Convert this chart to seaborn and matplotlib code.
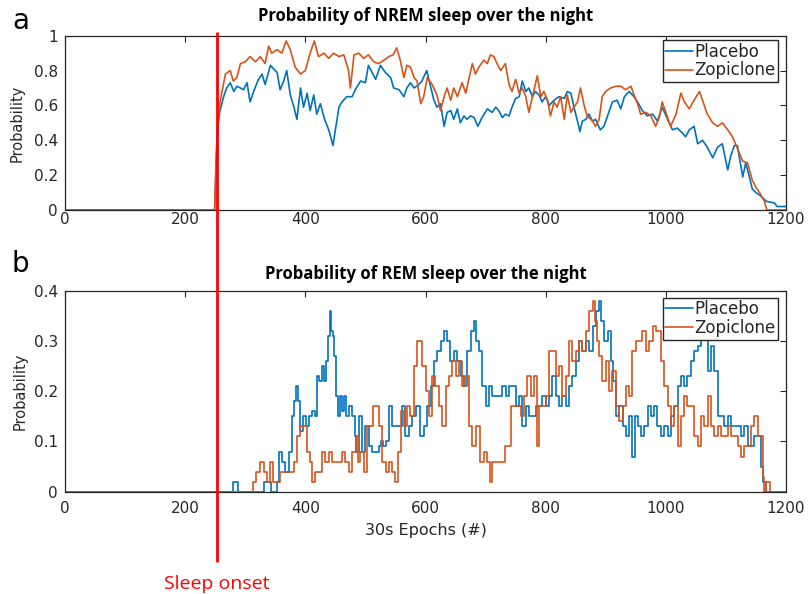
import numpy as np
import pandas as pd
import matplotlib
matplotlib.use("Agg")
import matplotlib.pyplot as plt
import matplotlib.transforms as mtransforms
from matplotlib.lines import Line2D
import seaborn as sns

# ---------------- data ----------------
nrem_pl_x = [0, 249, 252, 255, 258, 264, 269, 275, 281, 286, 292, 297, 303, 308, 314, 322, 328, 333, 342, 347,
             353, 358, 364, 369, 375, 381, 386, 392, 397, 403, 408, 414, 419, 425, 432, 439, 446, 450, 456, 461,
             469, 478, 483, 492, 500, 505, 511, 517, 525, 533, 542, 547, 556, 564, 569, 575, 581, 589, 594, 602,
             607, 614, 619, 625, 631, 636, 642, 647, 653, 658, 664, 669, 675, 681, 687, 694, 703, 711, 717, 722,
             728, 733, 739, 744, 750, 756, 761, 767, 772, 778, 783, 789, 794, 800, 806, 814, 822, 831, 836, 842,
             847, 853, 857, 861, 867, 872, 878, 883, 891, 897, 903, 911, 919, 925, 931, 939, 947, 953, 961, 969,
             978, 986, 994, 1003, 1011, 1019, 1028, 1033, 1039, 1047, 1053, 1061, 1069, 1078, 1086, 1094, 1103,
             1108, 1114, 1119, 1128, 1133, 1139, 1144, 1150, 1158, 1167, 1181, 1185, 1200]
nrem_pl_y = [0, 0, 0.30, 0.50, 0.57, 0.65, 0.70, 0.73, 0.68, 0.71, 0.70, 0.69, 0.73, 0.62, 0.68, 0.75, 0.78, 0.72, 0.83, 0.81,
             0.79, 0.69, 0.74, 0.80, 0.66, 0.59, 0.52, 0.70, 0.59, 0.67, 0.57, 0.66, 0.55, 0.61, 0.52, 0.46, 0.37, 0.46, 0.59, 0.62,
             0.65, 0.65, 0.69, 0.74, 0.73, 0.83, 0.79, 0.75, 0.83, 0.79, 0.76, 0.70, 0.69, 0.65, 0.70, 0.73, 0.70, 0.72, 0.74, 0.80,
             0.73, 0.63, 0.59, 0.61, 0.48, 0.56, 0.57, 0.52, 0.58, 0.50, 0.54, 0.52, 0.54, 0.53, 0.48, 0.53, 0.58, 0.56, 0.59, 0.57,
             0.53, 0.55, 0.54, 0.59, 0.64, 0.65, 0.74, 0.68, 0.70, 0.65, 0.68, 0.66, 0.62, 0.65, 0.60, 0.63, 0.65, 0.64, 0.68, 0.67,
             0.59, 0.51, 0.45, 0.51, 0.52, 0.55, 0.51, 0.52, 0.46, 0.48, 0.54, 0.62, 0.63, 0.58, 0.65, 0.68, 0.65, 0.62, 0.57, 0.54,
             0.55, 0.51, 0.59, 0.52, 0.46, 0.47, 0.44, 0.42, 0.46, 0.48, 0.38, 0.40, 0.36, 0.30, 0.36, 0.38, 0.23,
             0.31, 0.37, 0.37, 0.19, 0.27, 0.19, 0.12, 0.10, 0.08, 0.05, 0.04, 0.02, 0.02]

nrem_zo_x = [0, 249, 252, 255, 258, 267, 275, 280, 286, 292, 300, 308, 317, 325, 333, 339, 344, 353, 361, 368,
             375, 383, 392, 400, 408, 415, 422, 431, 439, 447, 456, 464, 472, 475, 481, 489, 497, 505, 514, 522,
             531, 539, 546, 552, 558, 564, 569, 575, 581, 586, 592, 597, 603, 611, 619, 625, 631, 636, 642, 647,
             653, 661, 667, 672, 678, 683, 689, 697, 703, 708, 714, 719, 725, 733, 739, 744, 750, 756, 761, 767,
             772, 778, 786, 792, 797, 803, 808, 814, 819, 825, 831, 836, 842, 847, 853, 858, 864, 869, 878, 883,
             889, 894, 900, 908, 917, 925, 933, 942, 947, 953, 958, 967, 975, 983, 989, 994, 1000, 1008, 1017,
             1025, 1031, 1039, 1047, 1056, 1061, 1069, 1078, 1086, 1094, 1103, 1111, 1117, 1122, 1128, 1136,
             1144, 1150, 1156, 1164, 1168, 1200]
nrem_zo_y = [0, 0, 0.35, 0.50, 0.62, 0.78, 0.80, 0.74, 0.76, 0.84, 0.85, 0.88, 0.85, 0.88, 0.84, 0.94, 0.90, 0.92, 0.90, 0.97,
             0.92, 0.82, 0.78, 0.80, 0.90, 0.97, 0.88, 0.90, 0.87, 0.90, 0.88, 0.89, 0.80, 0.70, 0.89, 0.90, 0.87, 0.89, 0.85, 0.84,
             0.86, 0.88, 0.89, 0.93, 0.86, 0.76, 0.83, 0.82, 0.76, 0.74, 0.61, 0.65, 0.76, 0.72, 0.66, 0.57, 0.65, 0.70, 0.63, 0.70,
             0.65, 0.73, 0.67, 0.75, 0.84, 0.78, 0.82, 0.86, 0.84, 0.89, 0.88, 0.84, 0.80, 0.84, 0.72, 0.68, 0.75, 0.67, 0.70, 0.65,
             0.56, 0.65, 0.77, 0.65, 0.68, 0.63, 0.54, 0.62, 0.59, 0.65, 0.52, 0.66, 0.56, 0.59, 0.62, 0.70, 0.60, 0.54, 0.51, 0.48,
             0.52, 0.65, 0.68, 0.70, 0.71, 0.71, 0.69, 0.71, 0.66, 0.61, 0.55, 0.56, 0.54, 0.48, 0.53, 0.62, 0.56, 0.48, 0.55,
             0.67, 0.62, 0.58, 0.63, 0.68, 0.63, 0.55, 0.50, 0.48, 0.50, 0.46, 0.42, 0.37, 0.33, 0.28, 0.27,
             0.17, 0.13, 0.10, 0.05, 0.0, 0.0]

rem_pl_x = [0, 279, 280, 287, 288, 330, 331, 343, 344, 352, 353, 359, 364, 369, 375, 379, 383, 386, 389, 392,
            394, 398, 403, 408, 414, 417, 421, 425, 429, 433, 436, 439, 442, 444, 447, 450, 453, 456, 458, 463,
            467, 469, 475, 481, 483, 486, 492, 497, 503, 508, 514, 519, 525, 528, 531, 536, 542, 547, 553, 558,
            564, 569, 575, 581, 589, 594, 600, 606, 611, 617, 622, 628, 633, 639, 644, 650, 656, 661, 667, 672,
            678, 682, 686, 692, 697, 703, 708, 714, 719, 725, 731, 736, 742, 747, 753, 758, 764, 769, 775, 781,
            786, 792, 797, 803, 808, 814, 819, 825, 831, 836, 842, 847, 853, 858, 864, 869, 875, 881, 886, 891,
            894, 900, 906, 911, 914, 919, 925, 931, 936, 942, 947, 950, 956, 961, 967, 972, 978, 983, 989, 994,
            1000, 1006, 1011, 1017, 1022, 1028, 1033, 1039, 1044, 1050, 1056, 1061, 1067, 1072, 1078, 1083, 1089,
            1094, 1100, 1106, 1111, 1117, 1122, 1128, 1133, 1139, 1144, 1150, 1156, 1160, 1164, 1168, 1200]
rem_pl_y = [0, 0, 0.02, 0.02, 0, 0, 0.02, 0.02, 0, 0, 0.02, 0.08, 0.06, 0.04, 0.08, 0.15, 0.18, 0.21, 0.18, 0.12,
            0.12, 0.15, 0.13, 0.15, 0.16, 0.15, 0.23, 0.22, 0.25, 0.22, 0.26, 0.31, 0.36, 0.32, 0.31, 0.27, 0.19, 0.15, 0.19, 0.16,
            0.19, 0.15, 0.17, 0.15, 0.11, 0.08, 0.15, 0.08, 0.13, 0.09, 0.08, 0.08, 0.09, 0.10, 0.09, 0.10, 0.17, 0.13, 0.13, 0.13,
            0.17, 0.11, 0.13, 0.15, 0.17, 0.11, 0.13, 0.17, 0.21, 0.26, 0.28, 0.30, 0.32, 0.30, 0.26, 0.28, 0.26, 0.23, 0.21, 0.28,
            0.32, 0.34, 0.30, 0.28, 0.21, 0.17, 0.21, 0.19, 0.19, 0.19, 0.21, 0.19, 0.21, 0.21, 0.17, 0.19, 0.13, 0.17, 0.15, 0.15,
            0.17, 0.17, 0.19, 0.17, 0.19, 0.23, 0.19, 0.17, 0.19, 0.17, 0.21, 0.23, 0.26, 0.30, 0.28, 0.30, 0.28, 0.33, 0.36, 0.38,
            0.34, 0.30, 0.32, 0.26, 0.22, 0.15, 0.17, 0.13, 0.11, 0.15, 0.07, 0.15, 0.13, 0.11, 0.13, 0.17, 0.15, 0.17, 0.13, 0.11,
            0.13, 0.11, 0.15, 0.17, 0.21, 0.23, 0.21, 0.23, 0.26, 0.28, 0.29, 0.32, 0.31, 0.24, 0.29, 0.24, 0.15,
            0.15, 0.13, 0.15, 0.13, 0.13, 0.13, 0.11, 0.13, 0.09, 0.09, 0.11, 0.11, 0.05, 0.02, 0, 0]

rem_zo_x = [0, 311, 314, 322, 328, 333, 339, 344, 350, 356, 361, 369, 378, 383, 389, 392, 400, 406, 408, 414,
            419, 425, 431, 436, 442, 447, 458, 464, 469, 475, 481, 486, 489, 494, 500, 506, 511, 514, 519, 525,
            531, 536, 542, 547, 552, 556, 561, 567, 572, 578, 583, 589, 592, 597, 603, 608, 614, 619, 625, 631,
            636, 642, 647, 653, 658, 664, 669, 675, 681, 686, 694, 700, 706, 709, 714, 719, 725, 731, 733, 739,
            744, 750, 756, 761, 767, 772, 778, 783, 787, 792, 797, 803, 808, 814, 819, 825, 831, 836, 842, 847,
            853, 858, 864, 869, 875, 881, 883, 887, 892, 897, 903, 908, 914, 919, 925, 931, 936, 942, 947, 953,
            958, 964, 969, 975, 981, 986, 991, 994, 1000, 1006, 1011, 1017, 1022, 1028, 1033, 1039, 1044, 1050,
            1056, 1061, 1067, 1072, 1078, 1083, 1089, 1094, 1100, 1106, 1111, 1117, 1122, 1128, 1133, 1139, 1144,
            1150, 1156, 1160, 1163, 1165, 1168, 1172, 1174, 1200]
rem_zo_y = [0, 0, 0.02, 0.04, 0.06, 0.04, 0.02, 0.06, 0.02, 0.02, 0.04, 0.04, 0.04, 0.06, 0.11, 0.13, 0.13, 0.08, 0.06, 0.02,
            0.04, 0.04, 0.08, 0.06, 0.08, 0.06, 0.06, 0.08, 0.06, 0.04, 0.08, 0.11, 0.06, 0.08, 0.04, 0.13, 0.13, 0.17, 0.17, 0.13,
            0.06, 0.04, 0.06, 0.04, 0.02, 0.08, 0.16, 0.13, 0.17, 0.15, 0.25, 0.30, 0.30, 0.25, 0.20, 0.15, 0.23, 0.21, 0.17, 0.13,
            0.21, 0.23, 0.26, 0.23, 0.26, 0.21, 0.23, 0.13, 0.09, 0.13, 0.06, 0.08, 0.06, 0.02, 0.06, 0.06, 0.06, 0.06, 0.09, 0.09,
            0.17, 0.17, 0.17, 0.15, 0.19, 0.23, 0.19, 0.23, 0.09, 0.17, 0.17, 0.19, 0.28, 0.28, 0.23, 0.25, 0.19, 0.23, 0.30, 0.26,
            0.28, 0.30, 0.28, 0.32, 0.36, 0.38, 0.34, 0.30, 0.27, 0.22, 0.26, 0.20, 0.24, 0.17, 0.14, 0.17, 0.21, 0.19, 0.28, 0.30,
            0.30, 0.32, 0.28, 0.30, 0.33, 0.32, 0.32, 0.26, 0.21, 0.17, 0.13, 0.17, 0.09, 0.15, 0.19, 0.17, 0.17, 0.11,
            0.09, 0.15, 0.13, 0.19, 0.13, 0.11, 0.13, 0.11, 0.11, 0.13, 0.11, 0.11, 0.09, 0.07, 0.09, 0.09, 0.13,
            0.15, 0.11, 0.11, 0.03, 0, 0.02, 0.02, 0, 0]

series_names = ["Placebo", "Zopiclone"]
x_ticks = [0, 200, 400, 600, 800, 1000, 1200]
nrem_yticks = [0, 0.2, 0.4, 0.6, 0.8, 1]
nrem_yticklabels = ["0", "0.2", "0.4", "0.6", "0.8", "1"]
rem_yticks = [0, 0.1, 0.2, 0.3, 0.4]
rem_yticklabels = ["0", "0.1", "0.2", "0.3", "0.4"]
sleep_onset = 253

# ---------------- style ----------------
sns.set_style("white")
plt.rcParams["font.family"] = ["DejaVu Sans"]
AX = "#262626"
BLUE = "#0072BD"
ORANGE = "#D95319"

fig = plt.figure(figsize=(8.09, 5.94), dpi=100)
W, H = 809, 594
ax1 = fig.add_axes([65 / W, 1 - 210 / H, 721 / W, 174.3 / H])
ax2 = fig.add_axes([65 / W, 1 - 491.7 / H, 721 / W, 201 / H])

panels = [
    (ax1, nrem_pl_x, nrem_pl_y, nrem_zo_x, nrem_zo_y, (0, 1), nrem_yticks, nrem_yticklabels, 1.5, "default"),
    (ax2, rem_pl_x, rem_pl_y, rem_zo_x, rem_zo_y, (0, 0.4), rem_yticks, rem_yticklabels, 7, "steps-mid"),
]
for ax, px, py, zx, zy, ylim, yt, ytl, xpad, ds in panels:
    df = pd.concat([
        pd.DataFrame({"epoch": px, "p": py, "cond": series_names[0]}),
        pd.DataFrame({"epoch": zx, "p": zy, "cond": series_names[1]}),
    ])
    sns.lineplot(data=df, x="epoch", y="p", hue="cond", palette=[BLUE, ORANGE],
                 estimator=None, linewidth=1.2, ax=ax, legend=False, drawstyle=ds)
    ax.set_xlim(0, 1200)
    ax.set_ylim(*ylim)
    ax.set_xticks(x_ticks)
    ax.set_xticklabels([str(t) for t in x_ticks])
    ax.set_yticks(yt)
    ax.set_yticklabels(ytl)
    ax.set_xlabel("")
    ax.set_ylabel("")
    for s in ax.spines.values():
        s.set_color(AX)
        s.set_linewidth(0.9)
        s.set_visible(True)
    ax.tick_params(axis="both", direction="in", length=4, width=0.8, color=AX,
                   labelcolor=AX, labelsize=11, top=True, right=True)
    ax.tick_params(axis="y", pad=5)
    ax.tick_params(axis="x", pad=xpad)
    handles = [Line2D([], [], color=BLUE, lw=1.2), Line2D([], [], color=ORANGE, lw=1.2)]
    leg = ax.legend(handles, series_names, loc="upper right",
                    bbox_to_anchor=(0.989, 0.975 if ax is ax1 else 0.965),
                    fontsize=12, frameon=True, fancybox=False, framealpha=1,
                    edgecolor=AX, borderpad=0.15, labelspacing=0.05,
                    handlelength=1.65, handletextpad=0.1, borderaxespad=0)
    leg.get_frame().set_linewidth(1.0)

# titles
fig.text(425.5 / W, 1 - 20.7 / H, "Probability of NREM sleep over the night",
         ha="center", va="baseline", fontsize=12, fontweight="bold", family="Open Sans", color="black")
fig.text(425.5 / W, 1 - 279 / H, "Probability of REM sleep over the night",
         ha="center", va="baseline", fontsize=12, fontweight="bold", family="Open Sans", color="black")

# y labels
fig.text(17 / W, 1 - 123 / H, "Probability", rotation=90, ha="center", va="center", fontsize=10.5, color=AX)
fig.text(20 / W, 1 - 391 / H, "Probability", rotation=90, ha="center", va="center", fontsize=10.5, color=AX)
# x label
fig.text(425.5 / W, 1 - 530 / H, "30s Epochs (#)", ha="center", va="center", fontsize=11.5, color=AX)

# panel letters
fig.text(12 / W, 1 - 29 / H, "a", ha="left", va="baseline", fontsize=20, color="black")
fig.text(12 / W, 1 - 271.7 / H, "b", ha="left", va="baseline", fontsize=20, color="black")

# sleep onset line spanning both panels
trans = mtransforms.blended_transform_factory(ax1.transData, fig.transFigure)
fig.add_artist(Line2D([sleep_onset, sleep_onset], [1 - 32 / H, 1 - 562 / H], transform=trans,
                      color="#FF0000", lw=2.0, solid_capstyle="butt"))
fig.text(sleep_onset, 1 - 584 / H, "Sleep onset", transform=trans, ha="center", va="center",
         fontsize=14, family="Open Sans", color="#FF0000")

fig.savefig("out.png", dpi=100)
